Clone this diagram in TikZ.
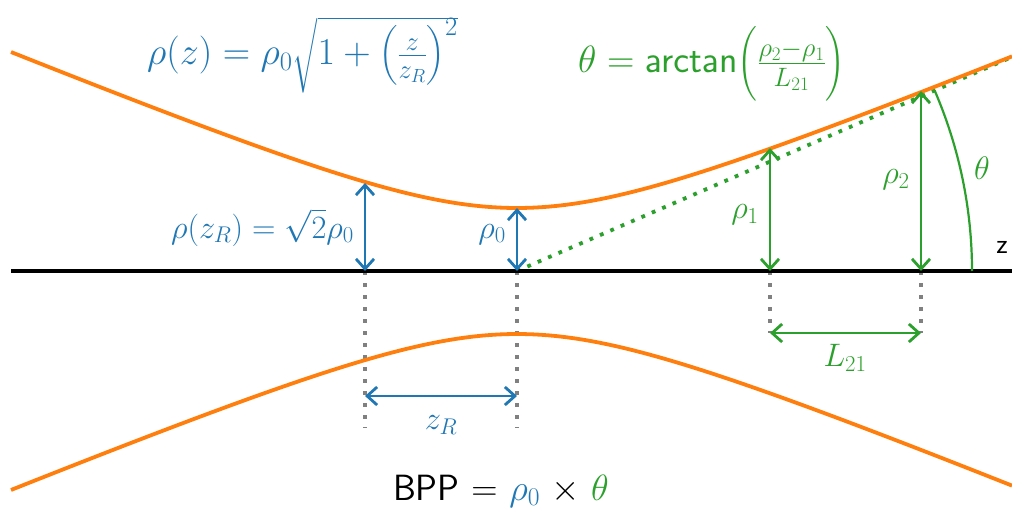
\documentclass[tikz,border=0pt]{standalone}
\usepackage{fix-cm}
\usepackage{amsmath}
\usepackage{exscale}
\usetikzlibrary{arrows.meta}
\definecolor{mblue}{HTML}{1F77B4}
\definecolor{morange}{HTML}{FF7F0E}
\definecolor{mgreen}{HTML}{2CA02C}
\definecolor{mgray}{HTML}{808080}
\begin{document}
\begin{tikzpicture}[x=1pt,y=-1pt,
  beam/.style={morange,line width=3.8pt},
  axisline/.style={black,line width=4.2pt},
  darr/.style={line width=2.8pt,{Straight Barb[length=10pt,width=18pt]}-{Straight Barb[length=10pt,width=18pt]}},
  guide/.style={mgray,line width=3.5pt,dash pattern=on 3.5pt off 8.5pt},
  asym/.style={mgreen,line width=3.8pt,dash pattern=on 3.8pt off 7.5pt},
  lbl/.style={inner sep=0pt,font=\fontsize{32.5}{38}\selectfont},
  big/.style={inner sep=0pt,font=\fontsize{38}{44}\selectfont}]
\useasboundingbox (0,0) rectangle (1012,511);
% coordinates
\coordinate (L) at (11,271);
\coordinate (R) at (1012,271);
\coordinate (W) at (517,271);
\coordinate (WT) at (517,208);
\coordinate (RZ) at (365,271);
\coordinate (RZT) at (365,183);
\coordinate (P1) at (770,271);
\coordinate (P1T) at (770,148);
\coordinate (P2) at (921,271);
\coordinate (P2T) at (921,91);
\coordinate (AE) at (1012,57);
\coordinate (RZB) at (365,428);
\coordinate (WB) at (517,428);
\coordinate (P1B) at (770,333);
\coordinate (P2B) at (921,333);
\coordinate (ZA) at (365,396);
\coordinate (ZB) at (517,396);
% guides
\draw[guide] (RZ) -- (RZB);
\draw[guide] (W) -- (WB);
\draw[guide] (P1) -- (P1B);
\draw[guide] (P2) -- (P2B);
% asymptote
\draw[asym] (W) -- (AE);
% axis
\draw[axisline] (L) -- (R);
% beams
\draw[beam] plot[domain=11:1012,samples=120] (\x,{271-63*sqrt(1+((\x-517)/152)^2)});
\draw[beam] plot[domain=11:1012,samples=120] (\x,{271+63*sqrt(1+((\x-517)/152)^2)});
% blue arrows
\draw[darr,mblue] (RZ) -- (RZT);
\draw[darr,mblue] (W) -- (WT);
\draw[darr,mblue] (ZA) -- (ZB);
% green arrows
\draw[darr,mgreen] (P1) -- (P1T);
\draw[darr,mgreen] (P2) -- (P2T);
\draw[darr,mgreen] (P1B) -- (P2B);
% theta arc
\draw[mgreen,line width=2.2pt] ([xshift=455pt]W) arc[start angle=0,end angle=-23.4,radius=455];
% labels
\node[big,mblue,anchor=base west] (f1) at (147,65) {$\rho(z) = \rho_0\sqrt{\raisebox{0pt}[\dimexpr\height-9pt\relax]{$1+\left(\frac{z}{z_R}\right)^2$}}$};
\node[big,mgreen,anchor=base west] (f2) at (578,73) {$\theta = \mathsf{arctan}\Bigl(\frac{\rho_2-\rho_1}{L_{21}}\Bigr)$};
\node[lbl,mblue,anchor=base east] (lrz) at (354,238) {$\rho(z_R) = \sqrt{2}\rho_0$};
\node[lbl,mblue,anchor=base east] (lr0) at (506,238) {$\rho_0$};
\node[lbl,mgreen] (lr1) at (745,215) {$\rho_1$};
\node[lbl,mgreen] (lr2) at (896,180) {$\rho_2$};
\node[lbl,mgreen] (lth) at (982,168) {$\theta$};
\node[lbl,font=\fontsize{28}{32}\selectfont\sffamily] (lz) at (1002,247) {z};
\node[lbl,mgreen] (lL) at (845,358) {$L_{21}$};
\node[lbl,mblue] (lzr) at (441,425) {$z_R$};
\node[big,font=\fontsize{36.5}{42}\selectfont\sffamily] (bpp) at (501,491) {BPP = {\color{mblue}$\rho_0$} $\times$ {\color{mgreen}$\theta$}};
\end{tikzpicture}
\end{document}
